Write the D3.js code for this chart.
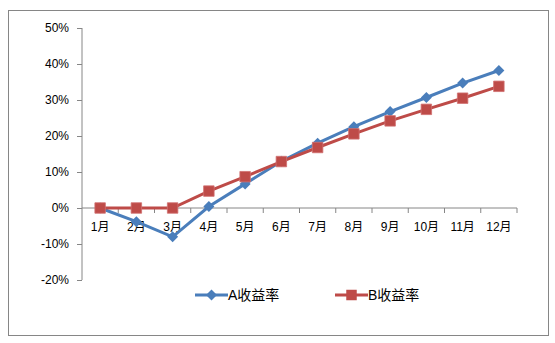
<!DOCTYPE html>
<html><head><meta charset="utf-8">
<script src="https://cdn.jsdelivr.net/npm/d3@7"></script>
<style>body{margin:0;background:#fff}svg{display:block}</style>
</head><body>
<script>
const categories = ["1月","2月","3月","4月","5月","6月","7月","8月","9月","10月","11月","12月"];
const seriesA = [0, -3.8, -8.0, 0.4, 6.7, 13.0, 18.0, 22.6, 26.8, 30.7, 34.7, 38.2];
const seriesB = [0, 0, 0, 4.7, 8.7, 12.9, 16.8, 20.6, 24.2, 27.4, 30.5, 33.8];
const yTicks = [-20, -10, 0, 10, 20, 30, 40, 50];
const seriesNames = ["A收益率", "B收益率"];

const W = 555, H = 343;
const svg = d3.select("body").append("svg").attr("width", W).attr("height", H);
svg.append("rect").attr("x", 8.5).attr("y", 10.5).attr("width", 540).attr("height", 325)
  .attr("fill", "#fff").attr("stroke", "#868686").attr("stroke-width", 1);

const x = d3.scaleBand().domain(categories).range([82, 517]);
const y = d3.scaleLinear().domain([-20, 50]).range([280, 28]);
const font = "'Liberation Sans', 'Noto Sans CJK SC', sans-serif";

// Y axis
const yAxis = svg.append("g").attr("transform", "translate(82,0)")
  .call(d3.axisLeft(y).tickValues(yTicks).tickSize(5).tickPadding(8).tickFormat(d => d + "%"));
yAxis.select(".domain").attr("stroke", "#868686").attr("d", "M0," + y(-20) + "V" + y(50));
yAxis.selectAll(".tick line").attr("stroke", "#868686");
yAxis.selectAll("text").attr("font-family", font).attr("font-size", 12).attr("fill", "#000");

// X axis at 0
const xAxis = svg.append("g").attr("transform", "translate(0," + y(0) + ")")
  .call(d3.axisBottom(x).tickSize(0).tickPadding(14));
xAxis.select(".domain").attr("stroke", "#868686").attr("d", "M82,0H517");
const boundaries = categories.map(c => x(c)).concat([x.range()[1]]).slice(1);
xAxis.selectAll(".bt").data(boundaries).enter().append("line")
  .attr("x1", d => d).attr("x2", d => d).attr("y1", 0).attr("y2", 5).attr("stroke", "#868686");
xAxis.selectAll("text").attr("font-family", font).attr("font-size", 12).attr("fill", "#000");

const cx = d => x(d) + x.bandwidth() / 2;
const line = d3.line().x((d, i) => cx(categories[i])).y(d => y(d));
const blue = "#4A7EBB", red = "#BE4B48";

const sq = d3.symbol().type(d3.symbolSquare).size(110);
const dm = "M0,-5.5L5.5,0L0,5.5L-5.5,0Z";

svg.append("path").datum(seriesA).attr("d", line).attr("fill", "none").attr("stroke", blue).attr("stroke-width", 3);
svg.selectAll(".ma").data(seriesA).enter().append("path")
  .attr("d", dm).attr("transform", (d, i) => `translate(${cx(categories[i])},${y(d)})`)
  .attr("fill", blue);
svg.append("path").datum(seriesB).attr("d", line).attr("fill", "none").attr("stroke", red).attr("stroke-width", 3);
svg.selectAll(".mb").data(seriesB).enter().append("path")
  .attr("d", sq).attr("transform", (d, i) => `translate(${cx(categories[i])},${y(d)})`)
  .attr("fill", red).attr("stroke", "#d07070").attr("stroke-width", 0.8);

// Legend
const lg = [{x: 195, c: blue, s: dm, n: seriesNames[0]}, {x: 335, c: red, s: sq, n: seriesNames[1]}];
lg.forEach(l => {
  const g = svg.append("g").attr("transform", `translate(${l.x},295)`);
  g.append("line").attr("x1", 0).attr("x2", 33).attr("stroke", l.c).attr("stroke-width", 3);
  g.append("path").attr("d", l.s).attr("transform", "translate(16.5,0)").attr("fill", l.c);
  g.append("text").attr("x", 33).attr("y", 5).text(l.n).attr("font-family", font).attr("font-size", 14).attr("fill", "#000");
});
</script>
</body></html>
